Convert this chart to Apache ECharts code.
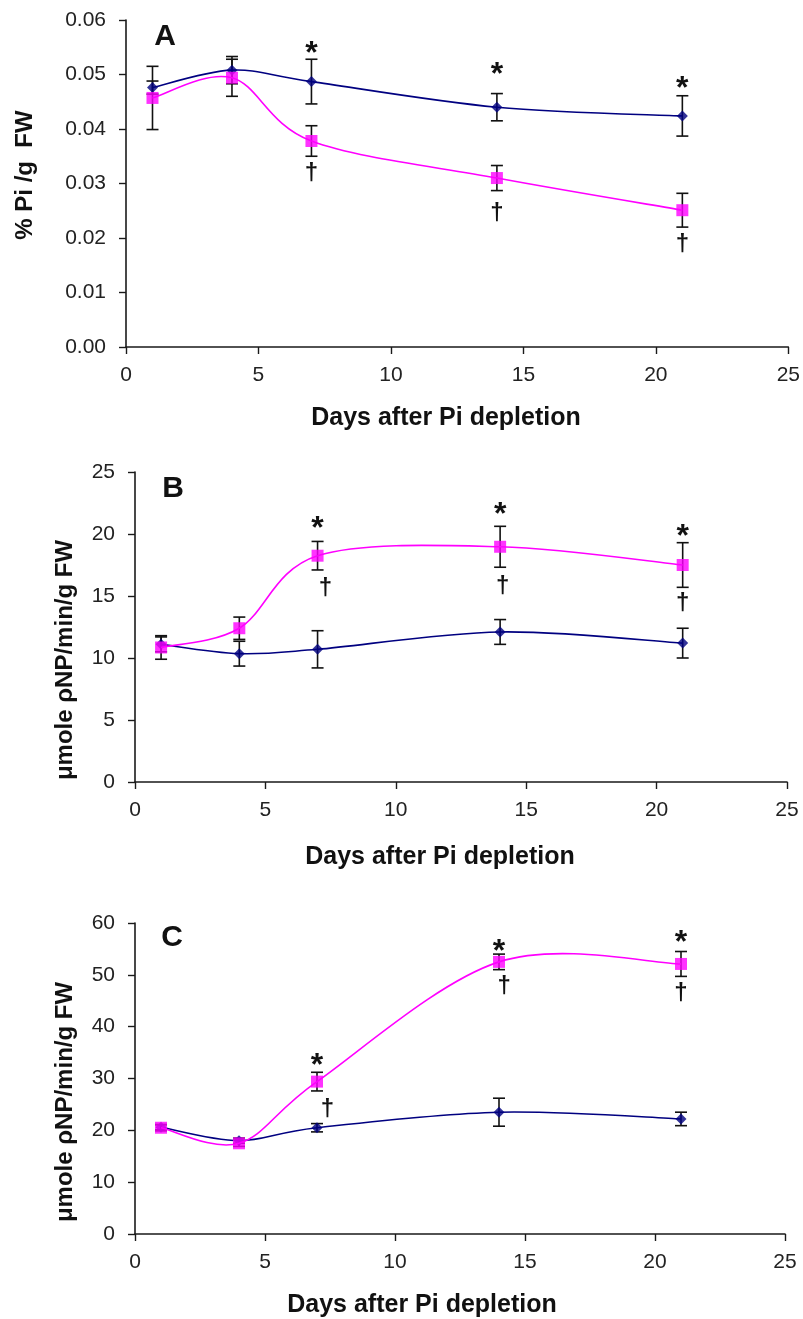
<!DOCTYPE html>
<html><head><meta charset="utf-8">
<script src="https://cdn.jsdelivr.net/npm/echarts@6/dist/echarts.min.js"></script>
<style>html,body{margin:0;padding:0;background:#fff}#c{width:803px;height:1319px}</style>
</head><body><div id="c"></div>
<script>
// ---- data ----
var days = [1, 4, 7, 14, 21];
var xTicks = [0, 5, 10, 15, 20, 25];

var aControl = [0.0476, 0.0508, 0.0487, 0.0440, 0.0424];
var aControlErr = [0.0012, 0.0025, 0.0041, 0.0025, 0.0037];
var aDepleted = [0.0457, 0.0494, 0.0378, 0.0310, 0.0251];
var aDepletedErr = [0.0058, 0.0034, 0.0028, 0.0023, 0.0031];
var aStars = [[7, 0.0549], [14, 0.0510], [21, 0.0484]];
var aDaggers = [[7, 0.0319], [14, 0.0246], [21, 0.0189]];

var bControl = [11.1, 10.35, 10.7, 12.1, 11.2];
var bControlErr = [0.6, 1.0, 1.5, 1.0, 1.2];
var bDepleted = [10.85, 12.4, 18.25, 18.97, 17.5];
var bDepletedErr = [0.95, 0.9, 1.15, 1.65, 1.8];
var bStars = [[7, 20.9], [14, 22.0], [21, 20.2]];
var bDaggers = [[7.3, 15.6], [14.1, 15.8], [21, 14.4]];

var cControl = [20.6, 18.0, 20.5, 23.5, 22.2];
var cControlErr = [0.5, 0.5, 0.8, 2.7, 1.3];
var cDepleted = [20.5, 17.5, 29.4, 52.5, 52.1];
var cDepletedErr = [0.6, 0.6, 1.8, 1.5, 2.4];
var cStars = [[7, 33.6], [14, 55.5], [21, 57.3]];
var cDaggers = [[7.4, 24.1], [14.2, 47.8], [21, 46.5]];

var panelLetters = ['A', 'B', 'C'];
var xTitle = 'Days after Pi depletion';
var yTitles = ['% Pi /g  FW', 'μmole ρNP/min/g FW', 'μmole ρNP/min/g FW'];

// ---- styling ----
var FONT = 'Liberation Sans, Arial, sans-serif';
var NAVY = '#000080';
var PINK = '#ff00ff';
var AXC = '#1a1a1a';

function pairs(xs, ys) { return xs.map(function (x, i) { return [x, ys[i]]; }); }
function errData(xs, ys, es) { return xs.map(function (x, i) { return [x, ys[i] - es[i], ys[i] + es[i]]; }); }

var grids = [
  { left: 126, top: 20, width: 663, height: 327 },
  { left: 135, top: 472, width: 652, height: 310 },
  { left: 135, top: 923, width: 650, height: 311 }
];
var yCfg = [
  { min: 0, max: 0.06, interval: 0.01, fmt: function (v) { return v.toFixed(2); } },
  { min: 0, max: 25, interval: 5, fmt: function (v) { return String(v); } },
  { min: 0, max: 60, interval: 10, fmt: function (v) { return String(v); } }
];

var xAxes = [], yAxes = [], series = [];
var panels = [
  [aControl, aControlErr, aDepleted, aDepletedErr, aStars, aDaggers],
  [bControl, bControlErr, bDepleted, bDepletedErr, bStars, bDaggers],
  [cControl, cControlErr, cDepleted, cDepletedErr, cStars, cDaggers]
];

function axisCommon() {
  return {
    axisLine: { show: true, onZero: false, lineStyle: { color: AXC, width: 1.6 } },
    axisTick: { show: true, inside: false, length: 7, lineStyle: { color: AXC, width: 1.4 } },
    splitLine: { show: false },
    axisLabel: { color: '#222', fontFamily: FONT, fontSize: 21 }
  };
}

function errRender(params, api) {
  var x = api.value(0);
  var lo = api.coord([x, api.value(1)]);
  var hi = api.coord([x, api.value(2)]);
  var w = 6;
  var st = { stroke: '#111', lineWidth: 1.6 };
  return {
    type: 'group',
    children: [
      { type: 'line', shape: { x1: lo[0], y1: lo[1], x2: hi[0], y2: hi[1] }, style: st },
      { type: 'line', shape: { x1: lo[0] - w, y1: lo[1], x2: lo[0] + w, y2: lo[1] }, style: st },
      { type: 'line', shape: { x1: hi[0] - w, y1: hi[1], x2: hi[0] + w, y2: hi[1] }, style: st }
    ]
  };
}

// Excel-style smoothed line (Catmull-Rom Bezier through the data points, in screen space)
function curveRender(color) {
  return function (params, api) {
    if (params.dataIndex !== 0) return null;
    var n = params.dataInsideLength;
    var pts = [];
    for (var k = 0; k < n; k++) pts.push(api.coord([api.value(0, k), api.value(1, k)]));
    var children = [];
    var t = 1 / 6;
    for (var i = 0; i < pts.length - 1; i++) {
      var p0 = pts[i - 1] || pts[i], p1 = pts[i], p2 = pts[i + 1], p3 = pts[i + 2] || pts[i + 1];
      children.push({
        type: 'bezierCurve',
        shape: {
          x1: p1[0], y1: p1[1], x2: p2[0], y2: p2[1],
          cpx1: p1[0] + (p2[0] - p0[0]) * t, cpy1: p1[1] + (p2[1] - p0[1]) * t,
          cpx2: p2[0] - (p3[0] - p1[0]) * t, cpy2: p2[1] - (p3[1] - p1[1]) * t
        },
        style: { stroke: color, fill: null, lineWidth: 1.6 }
      });
    }
    return { type: 'group', children: children };
  };
}

function textRender(ch, size, dy) {
  return function (params, api) {
    var p = api.coord([api.value(0), api.value(1)]);
    return {
      type: 'text', x: p[0], y: p[1] + dy,
      style: { text: ch, font: 'bold ' + size + 'px ' + FONT, fill: '#111', align: 'center', verticalAlign: 'middle' }
    };
  };
}

panels.forEach(function (pd, i) {
  var xa = axisCommon();
  xa.type = 'value'; xa.gridIndex = i; xa.min = 0; xa.max = 25; xa.interval = 5;
  xa.axisLabel.margin = 18;
  xa.axisLabel.formatter = function (v) { return xTicks.indexOf(v) >= 0 ? String(v) : ''; };
  xAxes.push(xa);
  var ya = axisCommon();
  ya.type = 'value'; ya.gridIndex = i; ya.min = yCfg[i].min; ya.max = yCfg[i].max; ya.interval = yCfg[i].interval;
  ya.axisLabel.margin = 20;
  ya.axisLabel.formatter = yCfg[i].fmt;
  yAxes.push(ya);

  series.push({ type: 'custom', xAxisIndex: i, yAxisIndex: i, z: 1, renderItem: errRender, data: errData(days, pd[0], pd[1]), silent: true });
  series.push({ type: 'custom', xAxisIndex: i, yAxisIndex: i, z: 1, renderItem: errRender, data: errData(days, pd[2], pd[3]), silent: true });
  series.push({ type: 'custom', xAxisIndex: i, yAxisIndex: i, z: 2, renderItem: curveRender(NAVY), data: pairs(days, pd[0]), silent: true });
  series.push({
    type: 'scatter', xAxisIndex: i, yAxisIndex: i, z: 3, data: pairs(days, pd[0]),
    symbol: 'diamond', symbolSize: 11, itemStyle: { color: NAVY, borderWidth: 0 }
  });
  series.push({ type: 'custom', xAxisIndex: i, yAxisIndex: i, z: 4, renderItem: curveRender(PINK), data: pairs(days, pd[2]), silent: true });
  series.push({
    type: 'scatter', xAxisIndex: i, yAxisIndex: i, z: 5, data: pairs(days, pd[2]),
    symbol: 'rect', symbolSize: 12, itemStyle: { color: PINK, borderWidth: 0 }
  });
  series.push({ type: 'custom', xAxisIndex: i, yAxisIndex: i, z: 6, renderItem: textRender('*', 32, 6), data: pd[4], silent: true });
  series.push({ type: 'custom', xAxisIndex: i, yAxisIndex: i, z: 6, renderItem: textRender('†', 24, 0), data: pd[5], silent: true });
});

var titlePos = [
  { letter: [165, 37], x: [446, 418], y: [25, 175] },
  { letter: [173, 489], x: [440, 857], y: [65, 660] },
  { letter: [172, 938], x: [422, 1305], y: [65, 1102] }
];
var graphic = [];
titlePos.forEach(function (t, i) {
  graphic.push({ type: 'text', x: t.letter[0], y: t.letter[1], style: { text: panelLetters[i], font: 'bold 30px ' + FONT, fill: '#111', align: 'center', verticalAlign: 'middle' } });
  graphic.push({ type: 'text', x: t.x[0], y: t.x[1], style: { text: xTitle, font: 'bold 25px ' + FONT, fill: '#111', align: 'center', verticalAlign: 'middle' } });
  graphic.push({ type: 'text', x: t.y[0], y: t.y[1], rotation: Math.PI / 2, style: { text: yTitles[i], font: 'bold 24px ' + FONT, fill: '#111', align: 'center', verticalAlign: 'middle' } });
});

var chart = echarts.init(document.getElementById('c'), null, { renderer: 'canvas' });
chart.setOption({
  animation: false,
  backgroundColor: '#fff',
  grid: grids,
  xAxis: xAxes,
  yAxis: yAxes,
  series: series,
  graphic: graphic
});
</script></body></html>
